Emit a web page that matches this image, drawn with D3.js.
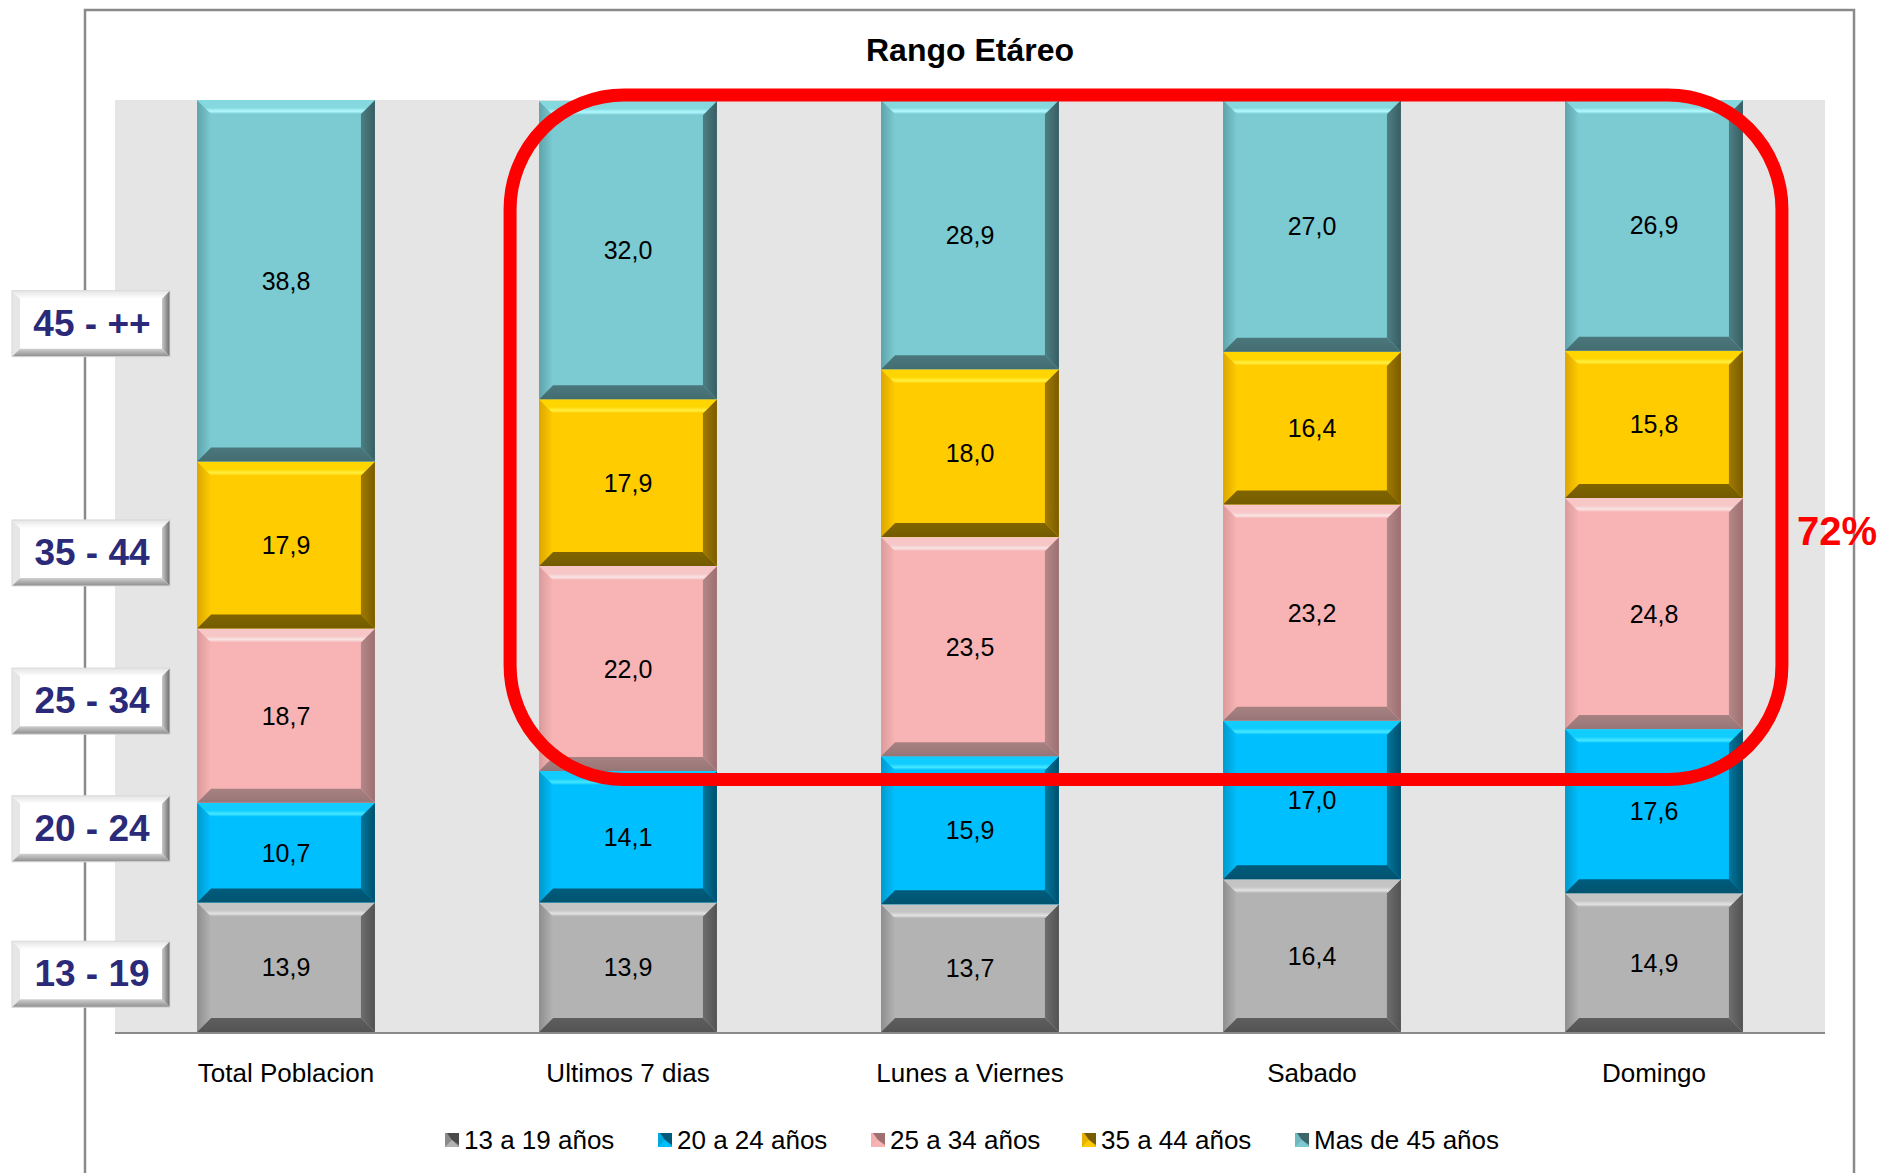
<!DOCTYPE html>
<html>
<head>
<meta charset="utf-8">
<script src="https://cdn.jsdelivr.net/npm/d3@7/dist/d3.min.js"></script>
<style>
  html, body { margin: 0; padding: 0; background: #ffffff; }
  svg { display: block; font-family: "Liberation Sans", Arial, sans-serif; }
</style>
</head>
<body>
<svg id="chart" width="1881" height="1173"></svg>
<script>
// ---------- DATA ----------
const categories = ["Total Poblacion", "Ultimos 7 dias", "Lunes a Viernes", "Sabado", "Domingo"];
const seriesNames = ["13 a 19 años", "20 a 24 años", "25 a 34 años", "35 a 44 años", "Mas de 45 años"];
const s13to19 = [13.9, 13.9, 13.7, 16.4, 14.9];
const s20to24 = [10.7, 14.1, 15.9, 17.0, 17.6];
const s25to34 = [18.7, 22.0, 23.5, 23.2, 24.8];
const s35to44 = [17.9, 17.9, 18.0, 16.4, 15.8];
const s45plus = [38.8, 32.0, 28.9, 27.0, 26.9];
const sideLabels = ["13 - 19", "20 - 24", "25 - 34", "35 - 44", "45 - ++"];
const sideLabelLevels = [6.2, 21.8, 35.5, 51.4, 76.0];   // value level (y) of each side tag
const chartTitle = "Rango Etáreo";
const highlightText = "72%";
const highlightCategories = ["Ultimos 7 dias", "Domingo"]; // first..last in highlight

// ---------- STYLE ----------
const palettes = [
  { face: "#B3B3B3", topOut: "#C4C4C4", topIn: "#E2E2E2", left: "#8E8E8E", rightIn: "#6E6E6E", rightOut: "#525252", bottom: "#5E5E5E", legend: "#8a8a8a", legendDark: "#4a4a4a" },
  { face: "#00BFFF", topOut: "#10CCFF", topIn: "#45E8FF", left: "#0099CC", rightIn: "#00779E", rightOut: "#004F6B", bottom: "#005C7C", legend: "#00A8E0", legendDark: "#005A78" },
  { face: "#F8B4B5", topOut: "#F7C6C6", topIn: "#F8E4E4", left: "#DA9A9B", rightIn: "#B48788", rightOut: "#9C7071", bottom: "#A88283", legend: "#F4B0B0", legendDark: "#A07070" },
  { face: "#FFCC00", topOut: "#FFD500", topIn: "#FFF040", left: "#DCA600", rightIn: "#A07A00", rightOut: "#7A5C00", bottom: "#806500", legend: "#E6B400", legendDark: "#7A5C00" },
  { face: "#7CCBD3", topOut: "#86D8DF", topIn: "#B0FAFF", left: "#5FA3AA", rightIn: "#4D7F84", rightOut: "#385E62", bottom: "#4B787D", legend: "#70B8BF", legendDark: "#3E666A" }
];

const plot = { left: 115, right: 1825, top: 100, bottom: 1032 };
const bevel = 14;

const svg = d3.select("#chart");
const defs = svg.append("defs");

palettes.forEach((p, i) => {
  const gt = defs.append("linearGradient").attr("id", "top" + i).attr("x1", 0).attr("y1", 0).attr("x2", 0).attr("y2", 1);
  gt.append("stop").attr("offset", "0%").attr("stop-color", p.topOut);
  gt.append("stop").attr("offset", "55%").attr("stop-color", p.topOut);
  gt.append("stop").attr("offset", "80%").attr("stop-color", p.topIn);
  gt.append("stop").attr("offset", "100%").attr("stop-color", p.face);
  const gr = defs.append("linearGradient").attr("id", "right" + i).attr("x1", 0).attr("y1", 0).attr("x2", 1).attr("y2", 0);
  gr.append("stop").attr("offset", "0%").attr("stop-color", p.rightIn);
  gr.append("stop").attr("offset", "100%").attr("stop-color", p.rightOut);
  const gl = defs.append("linearGradient").attr("id", "left" + i).attr("x1", 0).attr("y1", 0).attr("x2", 1).attr("y2", 0);
  gl.append("stop").attr("offset", "0%").attr("stop-color", p.left);
  gl.append("stop").attr("offset", "100%").attr("stop-color", p.face);
  const gb = defs.append("linearGradient").attr("id", "bottom" + i).attr("x1", 0).attr("y1", 0).attr("x2", 0).attr("y2", 1);
  gb.append("stop").attr("offset", "0%").attr("stop-color", p.bottom);
  gb.append("stop").attr("offset", "100%").attr("stop-color", d3.color(p.bottom).darker(0.3));
});
const gboxR = defs.append("linearGradient").attr("id", "boxRight").attr("x1", 0).attr("x2", 1);
gboxR.append("stop").attr("offset", "0%").attr("stop-color", "#c8c8c8");
gboxR.append("stop").attr("offset", "100%").attr("stop-color", "#6a6a6a");
const gboxB = defs.append("linearGradient").attr("id", "boxBottom").attr("x1", 0).attr("y1", 0).attr("x2", 0).attr("y2", 1);
gboxB.append("stop").attr("offset", "0%").attr("stop-color", "#d0d0d0");
gboxB.append("stop").attr("offset", "100%").attr("stop-color", "#8c8c8c");
const gboxT = defs.append("linearGradient").attr("id", "boxTop").attr("x1", 0).attr("y1", 0).attr("x2", 0).attr("y2", 1);
gboxT.append("stop").attr("offset", "0%").attr("stop-color", "#e4e4e4");
gboxT.append("stop").attr("offset", "100%").attr("stop-color", "#ffffff");

// ---------- SCALES ----------
const x = d3.scaleBand().domain(categories).range([plot.left, plot.right]).paddingInner(0.48).paddingOuter(0.24);
const y = d3.scaleLinear().domain([0, 100]).range([plot.bottom, plot.top]);

// ---------- FRAME ----------
svg.append("rect").attr("x", 85).attr("y", 10).attr("width", 1854 - 85).attr("height", 1300)
  .attr("fill", "#ffffff").attr("stroke", "#8a8a8a").attr("stroke-width", 2.5);

svg.append("rect").attr("x", plot.left).attr("y", plot.top)
  .attr("width", plot.right - plot.left).attr("height", plot.bottom - plot.top)
  .attr("fill", "#E5E5E5");

svg.append("text").attr("x", 970).attr("y", 61).attr("text-anchor", "middle")
  .attr("font-size", 32).attr("font-weight", "bold").attr("fill", "#000").text(chartTitle);

// ---------- STACK ----------
const rows = categories.map((c, i) => {
  const o = { cat: c };
  o[seriesNames[0]] = s13to19[i];
  o[seriesNames[1]] = s20to24[i];
  o[seriesNames[2]] = s25to34[i];
  o[seriesNames[3]] = s35to44[i];
  o[seriesNames[4]] = s45plus[i];
  return o;
});
const stacked = d3.stack().keys(seriesNames)(rows);

const fmt = v => d3.format(".1f")(v).replace(".", ",");
const poly = pts => pts.map(p => p.join(",")).join(" ");

const barsG = svg.append("g");
stacked.forEach((layer, si) => {
  layer.forEach(d => {
    const x0 = x(d.data.cat), x1 = x0 + x.bandwidth();
    const yTop = y(d[1]), yBot = y(d[0]);
    const b = Math.min(bevel, (yBot - yTop) / 2);
    const g = barsG.append("g");
    g.append("rect").attr("x", x0).attr("y", yTop).attr("width", x1 - x0).attr("height", yBot - yTop).attr("fill", palettes[si].face);
    g.append("polygon").attr("points", poly([[x0, yTop], [x0 + b, yTop + b], [x0 + b, yBot - b], [x0, yBot]])).attr("fill", `url(#left${si})`);
    g.append("polygon").attr("points", poly([[x1, yTop], [x1 - b, yTop + b], [x1 - b, yBot - b], [x1, yBot]])).attr("fill", `url(#right${si})`);
    g.append("polygon").attr("points", poly([[x0, yTop], [x1, yTop], [x1 - b, yTop + b], [x0 + b, yTop + b]])).attr("fill", `url(#top${si})`);
    g.append("polygon").attr("points", poly([[x0, yBot], [x1, yBot], [x1 - b, yBot - b], [x0 + b, yBot - b]])).attr("fill", `url(#bottom${si})`);
    g.append("text").attr("x", (x0 + x1) / 2).attr("y", (yTop + yBot) / 2 + 9)
      .attr("text-anchor", "middle").attr("font-size", 25).attr("fill", "#000")
      .text(fmt(d[1] - d[0]));
  });
});

svg.append("line").attr("x1", plot.left).attr("x2", plot.right).attr("y1", plot.bottom + 1).attr("y2", plot.bottom + 1)
  .attr("stroke", "#8a8a8a").attr("stroke-width", 2);

const xAxis = d3.axisBottom(x).tickSize(0).tickPadding(0);
const axG = svg.append("g").attr("transform", `translate(0,${plot.bottom})`).call(xAxis);
axG.select(".domain").remove();
axG.selectAll("text").attr("font-size", 26).attr("fill", "#000").attr("dy", null).attr("y", 50)
  .attr("font-family", "'Liberation Sans', Arial, sans-serif");

// ---------- HIGHLIGHT ----------
const hx0 = x(highlightCategories[0]) - 29;
const hx1 = x(highlightCategories[1]) + x.bandwidth() + 39;
const hy0 = y(100) - 5;
const hy1 = y(27.1);
svg.append("rect").attr("x", hx0).attr("y", hy0).attr("width", hx1 - hx0).attr("height", hy1 - hy0)
  .attr("rx", 114).attr("ry", 114).attr("fill", "none").attr("stroke", "#FF0000").attr("stroke-width", 13);
svg.append("text").attr("x", 1797).attr("y", 545).attr("font-size", 40).attr("font-weight", "bold")
  .attr("fill", "#FF0000").text(highlightText);

// ---------- SIDE TAGS ----------
const bx0 = 12, bx1 = 170, bh = 66, bb = 8;
sideLabels.forEach((lab, i) => {
  const cy = y(sideLabelLevels[i]);
  const y0 = cy - bh / 2, y1 = cy + bh / 2;
  const g = svg.append("g");
  g.append("rect").attr("x", bx0).attr("y", y0).attr("width", bx1 - bx0).attr("height", bh).attr("fill", "#ffffff");
  g.append("polygon").attr("points", poly([[bx0, y0], [bx1, y0], [bx1 - bb, y0 + bb], [bx0 + bb, y0 + bb]])).attr("fill", "url(#boxTop)");
  g.append("polygon").attr("points", poly([[bx0, y0], [bx0 + bb, y0 + bb], [bx0 + bb, y1 - bb], [bx0, y1]])).attr("fill", "#e6e6e6");
  g.append("polygon").attr("points", poly([[bx1, y0], [bx1 - bb, y0 + bb], [bx1 - bb, y1 - bb], [bx1, y1]])).attr("fill", "url(#boxRight)");
  g.append("polygon").attr("points", poly([[bx0, y1], [bx1, y1], [bx1 - bb, y1 - bb], [bx0 + bb, y1 - bb]])).attr("fill", "url(#boxBottom)");
  g.append("rect").attr("x", bx0).attr("y", y0).attr("width", bx1 - bx0).attr("height", bh)
    .attr("fill", "none").attr("stroke", "#d8d8d8").attr("stroke-width", 1);
  g.append("text").attr("x", (bx0 + bx1) / 2 + 1).attr("y", cy + 12).attr("text-anchor", "middle")
    .attr("font-size", 37).attr("font-weight", "bold").attr("fill", "#2B2A78").text(lab);
});

// ---------- LEGEND ----------
const legendX = [445, 658, 871, 1082, 1295];
const legG = svg.append("g");
seriesNames.forEach((name, i) => {
  const lx = legendX[i], ly = 1133, s = 14;
  const p = palettes[i];
  legG.append("rect").attr("x", lx).attr("y", ly).attr("width", s).attr("height", s).attr("fill", p.legend);
  legG.append("polygon").attr("points", `${lx+2},${ly} ${lx+s},${ly} ${lx+s},${ly+s-2} ${lx+s/2},${ly+s/2}`).attr("fill", p.legendDark);
  legG.append("polygon").attr("points", `${lx},${ly+s} ${lx+s},${ly+s} ${lx+s/2},${ly+s/2}`).attr("fill", p.face);
  legG.append("text").attr("x", lx + 19).attr("y", 1149).attr("font-size", 26).attr("fill", "#000").text(name);
});
</script>
</body>
</html>
